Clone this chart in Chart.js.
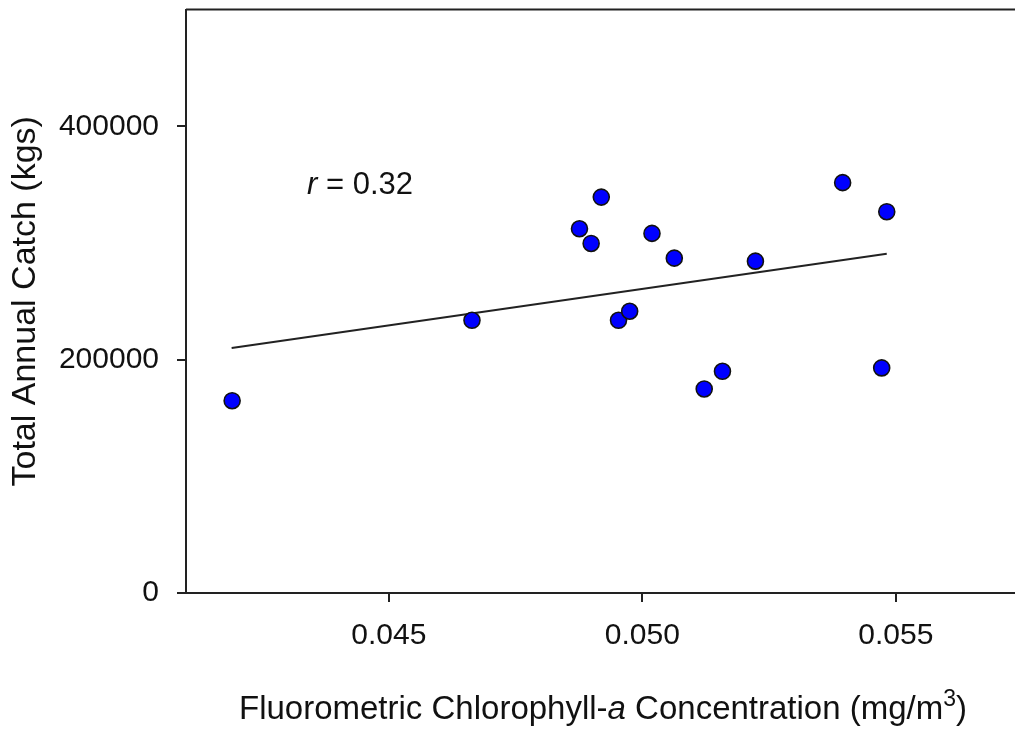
<!DOCTYPE html>
<html>
<head>
<meta charset="utf-8">
<script src="https://cdn.jsdelivr.net/npm/chart.js@4.4.1/dist/chart.umd.min.js"></script>
<style>
  html, body { margin: 0; padding: 0; background: #fff; overflow: hidden; }
  #wrap { position: relative; width: 1060px; height: 730px; }
</style>
</head>
<body>
<div id="wrap"><canvas id="chart" width="1060" height="730"></canvas></div>
<script>
// chlorophyll-a (mg/m3) vs total annual catch (kgs)
const chlorophyll = [0.04191, 0.04664, 0.04876, 0.04899, 0.04919, 0.04953, 0.04975, 0.05019,
                     0.05063, 0.05122, 0.05158, 0.05223, 0.05395, 0.05472, 0.05482];
const annualCatch = [164800, 233700, 312200, 299600, 339300, 233700, 241500, 308200,
                     287000, 174900, 190000, 284400, 351700, 192900, 326800];

// regression line end points
const fitX = [0.0419, 0.05482];
const fitY = [210000, 290700];

const xTicks = [0.045, 0.050, 0.055];
const yTicks = [0, 200000, 400000];
const xRange = [0.041, 0.058];
const yRange = [0, 500000];
const rValue = "0.32";

const FONT = "'Liberation Sans', Arial, Helvetica, sans-serif";
const INK = "#111";

function drawRuns(ctx, runs, x, y, align) {
  // runs: { text, size, italic, rise }
  const widths = runs.map((r) => {
    ctx.font = `${r.italic ? "italic " : ""}${r.size}px ${FONT}`;
    return ctx.measureText(r.text).width;
  });
  const total = widths.reduce((a, b) => a + b, 0);
  let cx = align === "center" ? x - total / 2 : x;
  runs.forEach((r, i) => {
    ctx.font = `${r.italic ? "italic " : ""}${r.size}px ${FONT}`;
    ctx.fillText(r.text, cx, y - (r.rise || 0));
    cx += widths[i];
  });
}

function noPadding(scale) {
  scale.paddingTop = 0;
  scale.paddingBottom = 0;
  scale.paddingLeft = 0;
  scale.paddingRight = 0;
}

const extras = {
  id: "extras",
  afterDraw(chart) {
    const { ctx, chartArea } = chart;
    ctx.save();
    // top frame line
    ctx.strokeStyle = "#222";
    ctx.lineWidth = 2;
    ctx.beginPath();
    ctx.moveTo(chartArea.left, chartArea.top);
    ctx.lineTo(chartArea.right, chartArea.top);
    ctx.stroke();

    ctx.fillStyle = INK;
    ctx.textBaseline = "alphabetic";
    ctx.textAlign = "left";
    drawRuns(ctx, [
      { text: "r", size: 31, italic: true },
      { text: " = " + rValue, size: 31 },
    ], chartArea.left + 121, 194, "left");

    drawRuns(ctx, [
      { text: "Fluorometric Chlorophyll-", size: 33 },
      { text: "a", size: 33, italic: true },
      { text: " Concentration (mg/m", size: 33 },
      { text: "3", size: 23, rise: 13 },
      { text: ")", size: 33 },
    ], chartArea.left + 417, 719, "center");
    ctx.restore();
  },
};

new Chart(document.getElementById("chart"), {
  type: "scatter",
  data: {
    datasets: [
      {
        label: "catch",
        data: chlorophyll.map((x, i) => ({ x, y: annualCatch[i] })),
        backgroundColor: "#0000ff",
        borderColor: "#111",
        borderWidth: 1.6,
        pointRadius: 8,
        pointHoverRadius: 8,
      },
      {
        label: "fit",
        data: fitX.map((x, i) => ({ x, y: fitY[i] })),
        showLine: true,
        borderColor: "#222",
        borderWidth: 2,
        pointRadius: 0,
      },
    ],
  },
  options: {
    responsive: false,
    animation: false,
    layout: { padding: { top: 9, right: 12, left: 0, bottom: 0 } },
    plugins: { legend: { display: false }, tooltip: { enabled: false } },
    scales: {
      x: {
        type: "linear",
        min: xRange[0],
        max: xRange[1],
        afterBuildTicks: (scale) => { scale.ticks = xTicks.map((value) => ({ value })); },
        afterFit: (scale) => { scale.height = 137; noPadding(scale); },
        border: { display: true, color: "#222", width: 2 },
        grid: { drawOnChartArea: false, drawTicks: true, tickLength: 9, color: "#222", lineWidth: 2 },
        ticks: {
          color: INK,
          padding: 16,
          maxRotation: 0,
          font: { family: FONT, size: 30 },
          callback: (v) => Number(v).toFixed(3),
        },
      },
      y: {
        type: "linear",
        min: yRange[0],
        max: yRange[1],
        afterBuildTicks: (scale) => { scale.ticks = yTicks.map((value) => ({ value })); },
        afterFit: (scale) => { scale.width = 186; noPadding(scale); },
        border: { display: true, color: "#222", width: 2 },
        grid: { drawOnChartArea: false, drawTicks: true, tickLength: 9, color: "#222", lineWidth: 2 },
        title: {
          display: true,
          text: "Total Annual Catch (kgs)",
          color: INK,
          font: { family: FONT, size: 34 },
          padding: { top: 5, bottom: 0 },
        },
        ticks: {
          color: INK,
          padding: 18,
          font: { family: FONT, size: 30 },
          callback: (v) => String(v),
        },
      },
    },
  },
  plugins: [extras],
});
</script>
</body>
</html>
